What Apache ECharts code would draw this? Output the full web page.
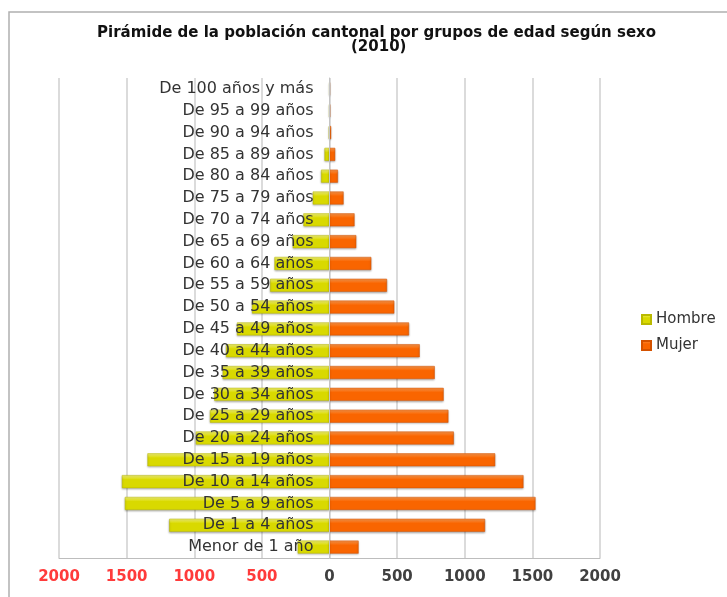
<!DOCTYPE html>
<html><head><meta charset="utf-8">
<script src="https://cdn.jsdelivr.net/npm/echarts@6/dist/echarts.min.js"></script>
<style>html,body{margin:0;padding:0;background:#fff}#c{width:727px;height:597px}</style>
</head><body><div id="c"></div>
<script>
const categories = ["Menor de 1 año","De 1 a 4 años","De 5 a 9 años","De 10 a 14 años","De 15 a 19 años","De 20 a 24 años","De 25 a 29 años","De 30 a 34 años","De 35 a 39 años","De 40 a 44 años","De 45 a 49 años","De 50 a 54 años","De 55 a 59 años","De 60 a 64 años","De 65 a 69 años","De 70 a 74 años","De 75 a 79 años","De 80 a 84 años","De 85 a 89 años","De 90 a 94 años","De 95 a 99 años","De 100 años y más"];
const hombre = [235,1185,1513,1535,1346,988,884,852,790,765,684,573,439,407,272,193,124,62,37,5,2,1];
const mujer = [215,1150,1523,1434,1225,919,879,844,778,667,588,479,425,309,198,185,104,62,42,12,4,2];
const xTicks = {min:-2000, max:2000, interval:500};

const chart = echarts.init(document.getElementById('c'));
const grad = (a,b)=>new echarts.graphic.LinearGradient(0,0,0,1,[{offset:0,color:a},{offset:0.35,color:b},{offset:1,color:b}]);
chart.setOption({
  animation:false,
  title:[
    {text:'Pirámide de la población cantonal por grupos de edad según sexo', left:92, top:21,
     textStyle:{fontFamily:'DejaVu Sans', fontWeight:'bold', fontSize:15, color:'#111'}},
    {text:'(2010)', left:346, top:35,
     textStyle:{fontFamily:'DejaVu Sans', fontWeight:'bold', fontSize:15, color:'#111'}}
  ],
  graphic:[{type:'rect', shape:{x:9, y:12, width:740, height:600}, style:{fill:'none', stroke:'#b0b0b0', lineWidth:1.5}, silent:true}],
  legend:{orient:'vertical', left:636, top:307, itemWidth:9, itemHeight:9, itemGap:11, icon:'rect',
    textStyle:{fontFamily:'DejaVu Sans', fontSize:15, color:'#333'}, data:['Hombre','Mujer']},
  grid:{left:59, right:127, top:78, bottom:39, containLabel:false, outerBoundsMode:'none'},
  xAxis:{type:'value', min:xTicks.min, max:xTicks.max, interval:xTicks.interval,
    axisLine:{show:true, onZero:false, lineStyle:{color:'#bdbdbd'}}, axisTick:{show:false},
    splitLine:{show:true, lineStyle:{color:'#cfcfcf', width:1.5}},
    axisLabel:{margin:12, fontFamily:'DejaVu Sans', fontWeight:'bold', fontSize:15,
      formatter:v=>String(Math.abs(v)),
      color:v=> v<0 ? '#ff3b3b' : '#404040'}},
  yAxis:{type:'category', data:categories, z:10, offset:-270.5,
    axisLine:{show:true, onZero:false, lineStyle:{color:'#c4c4c4', width:1}}, axisTick:{show:false},
    axisLabel:{margin:16, fontFamily:'DejaVu Sans', fontSize:16, color:'#333'}},
  series:[
    {name:'Hombre', type:'bar', stack:'p', barWidth:13, data:hombre.map(v=>-v),
     itemStyle:{color:grad('#f6f67a','#d9d900'), borderColor:'#b9b900', borderWidth:0.5, shadowColor:'rgba(0,0,0,0.3)', shadowBlur:2, shadowOffsetY:1}},
    {name:'Mujer', type:'bar', stack:'p', barWidth:13, data:mujer,
     itemStyle:{color:grad('#ff9a4d','#f96500'), borderColor:'#d45200', borderWidth:0.5, shadowColor:'rgba(0,0,0,0.3)', shadowBlur:2, shadowOffsetY:1}}
  ]
});
</script></body></html>
